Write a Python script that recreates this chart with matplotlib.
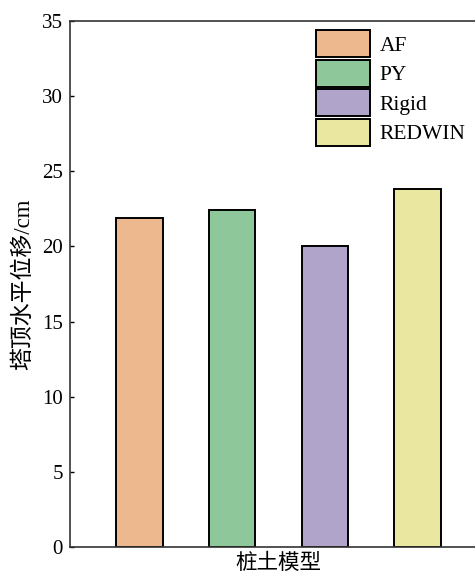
import matplotlib.pyplot as plt

models = ['AF', 'PY', 'Rigid', 'REDWIN']
displacement = [21.9, 22.4, 20.0, 23.8]
colors = ['#EEB88E', '#8DC79A', '#B0A4CB', '#E9E7A0']
yticks = [0, 5, 10, 15, 20, 25, 30, 35]

plt.rcParams['font.family'] = ['Liberation Serif', 'Noto Sans CJK SC']
plt.rcParams['font.size'] = 15

fig = plt.figure(figsize=(4.75, 5.75), dpi=100)
# axes run past the right edge of the figure
ax = fig.add_axes([70 / 475, 28 / 575, 417 / 475, 526 / 575])

x = range(1, len(models) + 1)
for xi, val, col, lab in zip(x, displacement, colors, models):
    ax.bar(xi, val, width=0.5, color=col, edgecolor='black', linewidth=1.4, label=lab)

ax.set_xlim(0.25, 4.75)
ax.set_ylim(0, 35)
ax.set_yticks(yticks)
ax.set_xticks([])
ax.tick_params(axis='y', direction='in', length=3, width=1, labelsize=15, pad=5)
for s in ax.spines.values():
    s.set_linewidth(1.2)
    s.set_color('#333333')

ax.set_xlabel('桩土模型', fontsize=15.5, labelpad=5)
ax.set_ylabel('塔顶水平位移/cm', fontsize=16.5, labelpad=6)

ax.legend(loc='upper left', bbox_to_anchor=(316 / 475, 1 - 30 / 575),
          bbox_transform=fig.transFigure, frameon=False, fontsize=15.5,
          handlelength=2.5, handleheight=1.55, labelspacing=0.12,
          handletextpad=0.45, borderpad=0, borderaxespad=0)

fig.savefig('out.png', dpi=100)
